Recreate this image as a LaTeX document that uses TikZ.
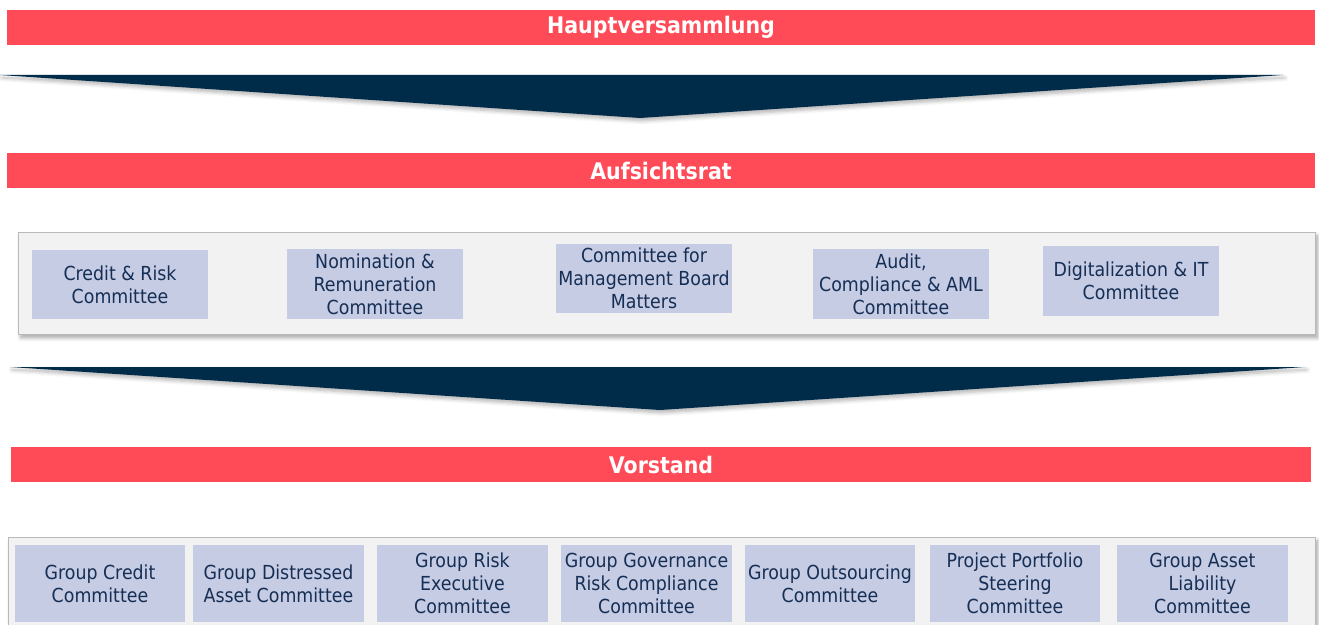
\documentclass[tikz,border=0pt]{standalone}
\usepackage{fontspec}
\setmainfont{DejaVu Sans}[FakeStretch=0.9]
\usepackage{xcolor}
\usepackage{tikz}
\usetikzlibrary{positioning,shadows.blur}
\definecolor{BarRed}{RGB}{255,75,87}
\definecolor{ArrowNavy}{RGB}{0,43,73}
\definecolor{BoxLilac}{RGB}{197,204,228}
\definecolor{PanelGray}{RGB}{242,242,242}
\definecolor{TextNavy}{RGB}{22,46,84}

\begin{document}
\begin{tikzpicture}[
        x=0.02cm, y=-0.02cm,
        % --- THANH TIEU DE ---
        bar/.style={
            rectangle,
            fill=BarRed,
            text=white,
            minimum height=0.7cm,
            inner sep=0pt,
            font=\bfseries\fontsize{13}{15}\selectfont
        },
        % --- KHUNG XAM ---
        panel/.style={
            draw=gray!55,
            fill=PanelGray,
            blur shadow={shadow xshift=0.3ex, shadow yshift=-0.4ex, shadow blur steps=6, shadow opacity=35}
        },
        % --- O UY BAN ---
        committee/.style={
            rectangle,
            fill=BoxLilac,
            text=TextNavy,
            align=center,
            inner sep=1pt,
            font=\fontsize{11}{13}\selectfont
        },
        upper/.style={committee, minimum width=3.52cm, minimum height=1.4cm},
        lower/.style={committee, minimum width=3.42cm, minimum height=1.54cm},
        % --- MUI TEN ---
        funnel/.style={
            fill=ArrowNavy,
            blur shadow={shadow xshift=0.2ex, shadow yshift=-0.3ex, shadow blur steps=5, shadow opacity=30}
        }
    ]
    \useasboundingbox (0,0) rectangle (1319,625);

    % --- HAUPTVERSAMMLUNG ---
    \node[bar, minimum width=26.16cm] (hv) at (661,27.5) {Hauptversammlung};

    % --- MUI TEN 1 ---
    \fill[funnel] (0,75) -- (1283,75) -- (640,118) -- cycle;

    % --- AUFSICHTSRAT ---
    \node[bar, minimum width=26.16cm] (ar) at (661,170.5) {Aufsichtsrat};

    \draw[panel] (18,232) rectangle (1315,334);
    \node[upper] (credit) at (120,284.5) {Credit \& Risk\\Committee};
    \node[upper] (nomination) at (375,284) {Nomination \&\\Remuneration\\Committee};
    \node[upper] (board) at (644,278.5) {Committee for\\Management Board\\Matters};
    \node[upper] (audit) at (901,284) {Audit,\\Compliance \& AML\\Committee};
    \node[upper] (digital) at (1131,281) {Digitalization \& IT\\Committee};

    % --- MUI TEN 2 ---
    \fill[funnel] (10,367) -- (1305,367) -- (660,410) -- cycle;

    % --- VORSTAND ---
    \node[bar, minimum width=26cm] (vs) at (661,464.5) {Vorstand};

    \draw[panel] (8,537) rectangle (1315,660);
    \foreach \x/\name/\txt in {
        100/gcc/{Group Credit\\Committee},
        278.5/gdac/{Group Distressed\\Asset Committee},
        462.5/grec/{Group Risk\\Executive\\Committee},
        646.5/ggrc/{Group Governance\\Risk Compliance\\Committee},
        830/goc/{Group Outsourcing\\Committee},
        1015/ppsc/{Project Portfolio\\Steering\\Committee},
        1202.5/galc/{Group Asset\\Liability\\Committee}} {
        \node[lower] (\name) at (\x,583.5) {\txt};
    }

\end{tikzpicture}
\end{document}
